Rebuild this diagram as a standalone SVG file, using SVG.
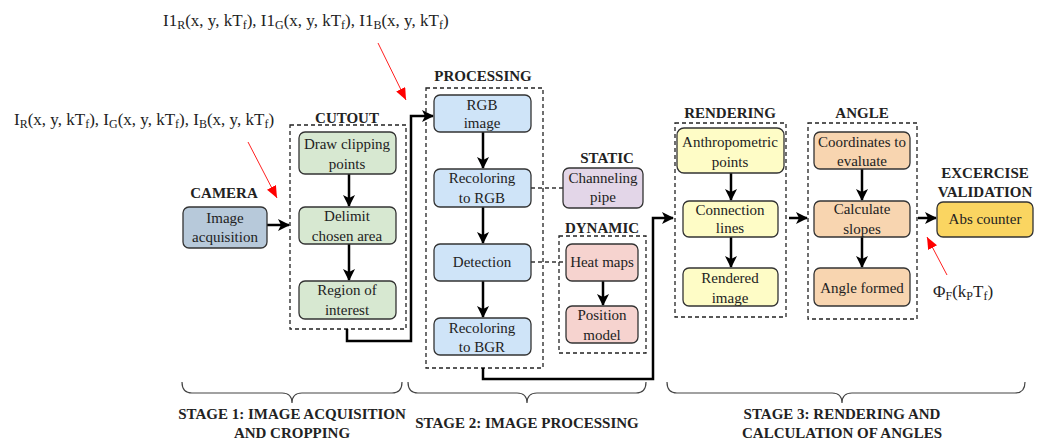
<svg xmlns="http://www.w3.org/2000/svg" width="1049" height="443" viewBox="0 0 1049 443" font-family="'Liberation Serif', 'Times New Roman', serif">
<defs>
<style>
.node{stroke:#333;stroke-width:1.3}
.t{font-size:15px;fill:#222;text-anchor:middle}
.lbl{font-size:15px;font-weight:bold;fill:#222;text-anchor:middle}
.math{font-size:17px;fill:#222}
.sub{font-size:12px}
.grp{fill:none;stroke:#222;stroke-width:1.3;stroke-dasharray:4 3}
.arr{fill:none;stroke:#000;stroke-width:2.5;marker-end:url(#ah)}
.dash{fill:none;stroke:#333;stroke-width:1.3;stroke-dasharray:4 3}
.red{fill:none;stroke:#ff2020;stroke-width:1;marker-end:url(#rh)}
.brace{fill:none;stroke:#444;stroke-width:1.2}
</style>
<marker id="ah" markerUnits="userSpaceOnUse" markerWidth="12" markerHeight="12" refX="11" refY="6" orient="auto">
<path d="M0,0 L12,6 L0,12 L3,6 Z" fill="#000"/>
</marker>
<marker id="rh" markerUnits="userSpaceOnUse" markerWidth="12" markerHeight="10" refX="12" refY="5" orient="auto">
<path d="M0,0 L12,5 L0,10 Z" fill="#ff0000"/>
</marker>
</defs>
<rect width="1049" height="443" fill="#fff"/>

<!-- formulas -->
<text class="math" x="163" y="26">I1<tspan class="sub" dy="3">R</tspan><tspan dy="-3">(x, y, kT</tspan><tspan class="sub" dy="3">f</tspan><tspan dy="-3">), I1</tspan><tspan class="sub" dy="3">G</tspan><tspan dy="-3">(x, y, kT</tspan><tspan class="sub" dy="3">f</tspan><tspan dy="-3">), I1</tspan><tspan class="sub" dy="3">B</tspan><tspan dy="-3">(x, y, kT</tspan><tspan class="sub" dy="3">f</tspan><tspan dy="-3">)</tspan></text>
<text class="math" x="14" y="125">I<tspan class="sub" dy="3">R</tspan><tspan dy="-3">(x, y, kT</tspan><tspan class="sub" dy="3">f</tspan><tspan dy="-3">), I</tspan><tspan class="sub" dy="3">G</tspan><tspan dy="-3">(x, y, kT</tspan><tspan class="sub" dy="3">f</tspan><tspan dy="-3">), I</tspan><tspan class="sub" dy="3">B</tspan><tspan dy="-3">(x, y, kT</tspan><tspan class="sub" dy="3">f</tspan><tspan dy="-3">)</tspan></text>
<text class="math" x="933" y="297">Φ<tspan class="sub" dy="3">F</tspan><tspan dy="-3">(k</tspan><tspan class="sub" dy="3">P</tspan><tspan dy="-3">T</tspan><tspan class="sub" dy="3">f</tspan><tspan dy="-3">)</tspan></text>

<!-- group labels -->
<text class="lbl" x="224" y="198">CAMERA</text>
<text class="lbl" x="347" y="123">CUTOUT</text>
<text class="lbl" x="483" y="81">PROCESSING</text>
<text class="lbl" x="607" y="163">STATIC</text>
<text class="lbl" x="602" y="233">DYNAMIC</text>
<text class="lbl" x="730" y="118">RENDERING</text>
<text class="lbl" x="862" y="118">ANGLE</text>
<text class="lbl" x="985" y="178">EXCERCISE</text>
<text class="lbl" x="985" y="197">VALIDATION</text>

<!-- group boxes -->
<g id="groups">
<rect class="grp" x="290" y="125" width="116" height="204"/>
<rect class="grp" x="426" y="88" width="117" height="280"/>
<rect class="grp" x="559" y="236" width="87" height="117"/>
<rect class="grp" x="675" y="123" width="111" height="194"/>
<rect class="grp" x="808" y="123" width="109" height="196"/>
</g>

<!-- connectors -->
<g id="connectors">
<line class="arr" x1="267" y1="225" x2="289" y2="225"/>
<line class="arr" x1="349" y1="174" x2="349" y2="206"/>
<line class="arr" x1="349" y1="244" x2="349" y2="280"/>
<path class="arr" d="M347,329 V341 H411 V116 H433"/>
<line class="arr" x1="483" y1="132" x2="483" y2="168"/>
<line class="arr" x1="483" y1="207" x2="483" y2="243"/>
<line class="arr" x1="483" y1="281" x2="483" y2="317"/>
<line class="dash" x1="531" y1="188" x2="563" y2="188"/>
<line class="dash" x1="531" y1="262" x2="566" y2="262"/>
<line class="arr" x1="603" y1="281" x2="603" y2="305"/>
<path class="arr" d="M483,368 V379 H653 V218 H673"/>
<line class="arr" x1="731" y1="173" x2="731" y2="200"/>
<line class="arr" x1="731" y1="237" x2="731" y2="267"/>
<line class="arr" x1="789" y1="218" x2="807" y2="218"/>
<line class="arr" x1="862" y1="169" x2="862" y2="200"/>
<line class="arr" x1="862" y1="237" x2="862" y2="267"/>
<line class="arr" x1="918" y1="218" x2="936" y2="218"/>
<line class="red" x1="378" y1="43" x2="406" y2="100"/>
<line class="red" x1="248" y1="142" x2="277" y2="198"/>
<line class="red" x1="947" y1="275" x2="927" y2="237"/>
</g>

<!-- nodes -->
<g id="camera">
<rect class="node" x="183" y="207" width="84" height="41" rx="6" fill="#b7c9da" stroke="#4d6a86"/>
<text class="t" x="225" y="223">Image</text><text class="t" x="225" y="242">acquisition</text>
</g>
<g id="clip">
<rect class="node" x="299" y="132" width="97" height="42" rx="6" fill="#d7e8d1"/>
<text class="t" x="347" y="149">Draw clipping</text><text class="t" x="347" y="169">points</text>
</g>
<g id="delimit">
<rect class="node" x="299" y="207" width="97" height="37" rx="6" fill="#d7e8d1"/>
<text class="t" x="347" y="221">Delimit</text><text class="t" x="347" y="241">chosen area</text>
</g>
<g id="roi">
<rect class="node" x="299" y="281" width="97" height="38" rx="6" fill="#d7e8d1"/>
<text class="t" x="347" y="295">Region of</text><text class="t" x="347" y="315">interest</text>
</g>
<g id="rgb">
<rect class="node" x="434" y="95" width="97" height="37" rx="6" fill="#cfe4f8"/>
<text class="t" x="482" y="110">RGB</text><text class="t" x="482" y="128">image</text>
</g>
<g id="recolor-rgb">
<rect class="node" x="434" y="169" width="97" height="38" rx="6" fill="#cfe4f8"/>
<text class="t" x="482" y="183">Recoloring</text><text class="t" x="482" y="203">to RGB</text>
</g>
<g id="detection">
<rect class="node" x="434" y="244" width="97" height="37" rx="6" fill="#cfe4f8"/>
<text class="t" x="482" y="267">Detection</text>
</g>
<g id="recolor-bgr">
<rect class="node" x="434" y="318" width="97" height="37" rx="6" fill="#cfe4f8"/>
<text class="t" x="482" y="333">Recoloring</text><text class="t" x="482" y="352">to BGR</text>
</g>
<g id="pipe">
<rect class="node" x="563" y="168" width="80" height="40" rx="6" fill="#e3d6e8"/>
<text class="t" x="603" y="183">Channeling</text><text class="t" x="603" y="202">pipe</text>
</g>
<g id="heat">
<rect class="node" x="566" y="244" width="72" height="37" rx="6" fill="#f6d3cf"/>
<text class="t" x="602" y="267">Heat maps</text>
</g>
<g id="position">
<rect class="node" x="566" y="306" width="72" height="37" rx="6" fill="#f6d3cf"/>
<text class="t" x="602" y="320">Position</text><text class="t" x="602" y="340">model</text>
</g>
<g id="anthro">
<rect class="node" x="677" y="128" width="107" height="45" rx="7" fill="#fefcc6"/>
<text class="t" x="730" y="147">Anthropometric</text><text class="t" x="730" y="167">points</text>
</g>
<g id="connection">
<rect class="node" x="683" y="201" width="95" height="36" rx="6" fill="#fefcc6"/>
<text class="t" x="730" y="215">Connection</text><text class="t" x="730" y="233">lines</text>
</g>
<g id="rendered">
<rect class="node" x="683" y="268" width="95" height="38" rx="6" fill="#fefcc6"/>
<text class="t" x="730" y="283">Rendered</text><text class="t" x="730" y="303">image</text>
</g>
<g id="coords">
<rect class="node" x="814" y="132" width="96" height="37" rx="6" fill="#f8d5b0"/>
<text class="t" x="862" y="147">Coordinates to</text><text class="t" x="862" y="166">evaluate</text>
</g>
<g id="slopes">
<rect class="node" x="814" y="201" width="96" height="36" rx="6" fill="#f8d5b0"/>
<text class="t" x="862" y="214">Calculate</text><text class="t" x="862" y="234">slopes</text>
</g>
<g id="angle">
<rect class="node" x="814" y="268" width="96" height="38" rx="6" fill="#f8d5b0"/>
<text class="t" x="862" y="293">Angle formed</text>
</g>
<g id="abs">
<rect class="node" x="937" y="202" width="96" height="35" rx="6" fill="#fad561" stroke="#8a6d10"/>
<text class="t" x="985" y="224">Abs counter</text>
</g>

<!-- stages -->
<g id="stages">
<path class="brace" d="M182,382 Q182,393 192,393 L282,393 Q292,393 292,403 Q292,393 302,393 L392,393 Q402,393 402,382"/>
<path class="brace" d="M408,382 Q408,393 418,393 L517,393 Q527,393 527,403 Q527,393 537,393 L636,393 Q646,393 646,382"/>
<path class="brace" d="M667,382 Q667,393 677,393 L832,393 Q842,393 842,403 Q842,393 852,393 L1015,393 Q1025,393 1025,382"/>
<text class="lbl" x="292" y="419">STAGE 1: IMAGE ACQUISITION</text>
<text class="lbl" x="292" y="438">AND CROPPING</text>
<text class="lbl" x="527" y="428">STAGE 2: IMAGE PROCESSING</text>
<text class="lbl" x="842" y="419">STAGE 3: RENDERING AND</text>
<text class="lbl" x="842" y="438">CALCULATION OF ANGLES</text>
</g>
</svg>
